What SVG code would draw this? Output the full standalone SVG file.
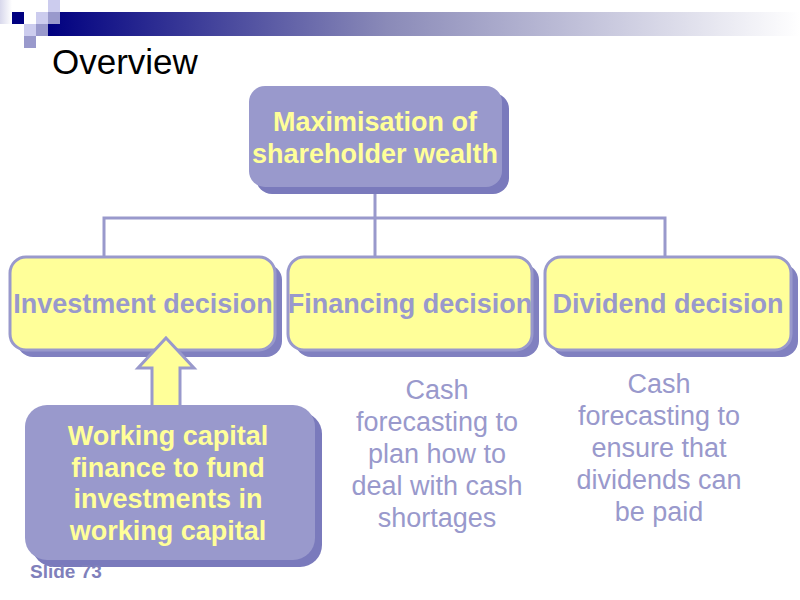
<svg xmlns="http://www.w3.org/2000/svg" width="800" height="600" viewBox="0 0 800 600">
<defs>
<linearGradient id="bar" x1="0" y1="0" x2="1" y2="0">
<stop offset="0" stop-color="#000080"/>
<stop offset="0.45" stop-color="#8a8ab8"/>
<stop offset="1" stop-color="#ffffff"/>
</linearGradient>
<linearGradient id="corner" x1="0" y1="0" x2="1" y2="0">
<stop offset="0" stop-color="#d8d8ec"/>
<stop offset="1" stop-color="#ffffff"/>
</linearGradient>
<style>
.purple{fill:#9999cc;}
.shadowP{fill:#7a7abc;}
.yellow{fill:#ffff99;stroke:#9999cc;stroke-width:3;}
.shadowY{fill:#8080c0;}
.ytxt{font-family:"Liberation Sans",Arial,sans-serif;font-weight:bold;font-size:27px;fill:#ffff99;text-anchor:middle;}
.ptxt{font-family:"Liberation Sans",Arial,sans-serif;font-weight:bold;font-size:27px;fill:#9999cc;text-anchor:middle;}
.note{font-family:"Liberation Sans",Arial,sans-serif;font-size:27px;fill:#9999cc;text-anchor:middle;}
.conn{fill:none;stroke:#9999cc;stroke-width:3;}
</style>
</defs>
<rect width="800" height="600" fill="#ffffff"/>
<g id="header">
<rect x="48" y="12" width="752" height="24" fill="url(#bar)"/>
<rect x="0" y="0" width="12" height="24" fill="url(#corner)"/>
<rect x="12" y="12" width="12" height="12" fill="#000080"/>
<rect x="36" y="12" width="12" height="12" fill="#ccccee"/>
<rect x="48" y="0" width="12" height="12" fill="#ccccee"/>
<rect x="48" y="12" width="12" height="12" fill="#9999cc"/>
<rect x="24" y="24" width="12" height="12" fill="#ccccee"/>
<rect x="36" y="24" width="12" height="12" fill="#9999cc"/>
<rect x="24" y="36" width="12" height="12" fill="#9999cc"/>
<text x="52" y="74" font-family="'Liberation Sans',Arial,sans-serif" font-size="35" fill="#000000">Overview</text>
</g>
<g id="connectors">
<path class="conn" d="M375 190 V258 M104 258 V218 H665 V258"/>
</g>
<g id="top">
<rect x="256" y="93" width="253" height="101" rx="16" class="shadowP"/>
<rect x="249" y="86" width="253" height="101" rx="16" class="purple"/>
<text class="ytxt" x="375" y="131">Maximisation of</text>
<text class="ytxt" x="375" y="163">shareholder wealth</text>
</g>
<g id="investment">
<rect x="17" y="264" width="265" height="93" rx="16" class="shadowY"/>
<rect x="10" y="257" width="265" height="93" rx="16" class="yellow"/>
<text class="ptxt" x="143" y="313">Investment decision</text>
</g>
<g id="financing">
<rect x="295" y="264" width="244" height="93" rx="16" class="shadowY"/>
<rect x="288" y="257" width="244" height="93" rx="16" class="yellow"/>
<text class="ptxt" x="410" y="313">Financing decision</text>
</g>
<g id="dividend">
<rect x="552" y="264" width="246" height="93" rx="16" class="shadowY"/>
<rect x="545" y="257" width="246" height="93" rx="16" class="yellow"/>
<text class="ptxt" x="668" y="313">Dividend decision</text>
</g>
<g id="arrow">
<polygon points="166,338 194,368 180,368 180,408 152,408 152,368 138,368" fill="#ffff99" stroke="#9999cc" stroke-width="3" stroke-linejoin="miter"/>
</g>
<g id="working">
<rect x="32" y="412" width="290" height="155" rx="22" class="shadowP"/>
<rect x="25" y="405" width="290" height="155" rx="22" class="purple"/>
<text class="ytxt" x="168" y="445">Working capital</text>
<text class="ytxt" x="168" y="477">finance to fund</text>
<text class="ytxt" x="168" y="508">investments in</text>
<text class="ytxt" x="168" y="540">working capital</text>
</g>
<g id="note1">
<text class="note" x="437" y="399">Cash</text>
<text class="note" x="437" y="431">forecasting to</text>
<text class="note" x="437" y="463">plan how to</text>
<text class="note" x="437" y="495">deal with cash</text>
<text class="note" x="437" y="527">shortages</text>
</g>
<g id="note2">
<text class="note" x="659" y="393">Cash</text>
<text class="note" x="659" y="425">forecasting to</text>
<text class="note" x="659" y="457">ensure that</text>
<text class="note" x="659" y="489">dividends can</text>
<text class="note" x="659" y="521">be paid</text>
</g>
<g id="footer">
<text x="30" y="578" font-family="'Liberation Sans',Arial,sans-serif" font-weight="bold" font-size="19" fill="#8080bb">Slide  73</text>
</g>
</svg>
